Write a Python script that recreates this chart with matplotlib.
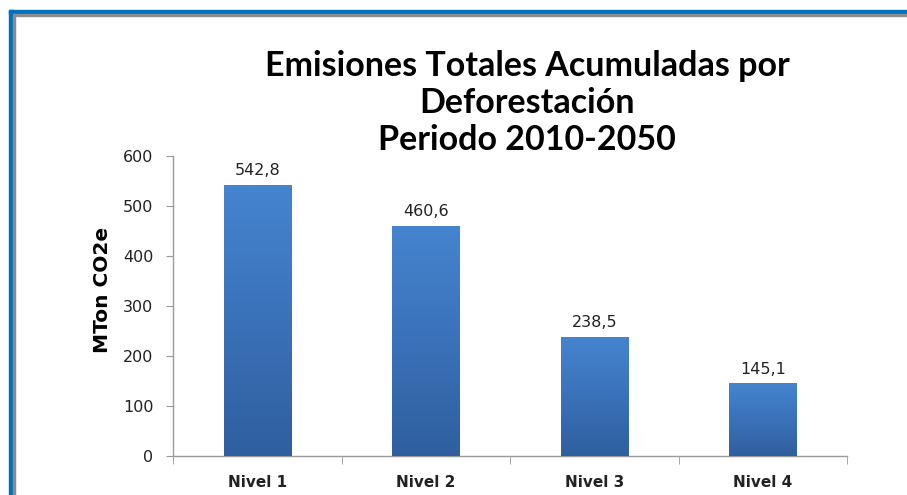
import numpy as np
import matplotlib
matplotlib.use("Agg")
import matplotlib.pyplot as plt
from matplotlib.patches import Rectangle

categories = ["Nivel 1", "Nivel 2", "Nivel 3", "Nivel 4"]
values = [542.8, 460.6, 238.5, 145.1]
value_labels = ["542,8", "460,6", "238,5", "145,1"]
yticks = [0, 100, 200, 300, 400, 500, 600]
title_lines = ["Emisiones Totales Acumuladas por", "Deforestación", "Periodo 2010-2050"]

plt.rcParams['font.family'] = ['DejaVu Sans']

W, H = 907, 495
fig = plt.figure(figsize=(W / 100, H / 100), dpi=100)
fig.patch.set_facecolor('white')

# frame: blue band on top and left, with a thin grey inner line
def px(x0, y0, w, h, color):
    fig.patches.append(Rectangle((x0 / W, 1 - (y0 + h) / H), w / W, h / H,
                                 transform=fig.transFigure, color=color, zorder=0))

px(9, 10, W - 9, 4, '#0070C0')
px(13, 14, W - 13, 1.5, '#8C8C8C')
px(9, 10, 4, H - 10, '#0070C0')
px(13, 14, 1.5, H - 14, '#8C8C8C')

ax = fig.add_axes([173 / W, 1 - 456 / H, (847 - 173) / W, 300 / H])
x = np.arange(len(categories))
bars = ax.bar(x, values, width=0.4, color='#3E78C2', edgecolor='#2B5A94',
              linewidth=0.6, zorder=2)

# vertical gradient inside each bar
grad = np.linspace(0, 1, 256).reshape(-1, 1)
cmap = matplotlib.colors.LinearSegmentedColormap.from_list(
    'b', ['#2F5F9E', '#3A72B9', '#4684D0'])
for b in bars:
    x0, y0 = b.get_x(), b.get_y()
    im = ax.imshow(grad, cmap=cmap, aspect='auto', origin='lower',
                   extent=[x0, x0 + b.get_width(), y0, y0 + b.get_height()],
                   zorder=3)
    im.set_clip_path(b)

for xi, v, lab in zip(x, values, value_labels):
    ax.text(xi, v + 13, lab, ha='center', va='bottom', fontsize=11.5, color='#222222')

ax.set_xlim(-0.5, len(categories) - 0.5)
ax.set_ylim(0, 600)
ax.set_yticks(yticks)
ax.set_yticklabels([str(t) for t in yticks], fontsize=11.5, color='#222222')
ax.set_xticks(x)
ax.set_xticklabels(categories, fontsize=11, fontweight='bold', color='#222222')
ax.tick_params(axis='x', length=0, pad=14)
ax.tick_params(axis='y', length=5, color='#9A9A9A', pad=9)
ax.set_xticks(np.arange(-0.5, len(categories)), minor=True)
ax.tick_params(axis='x', which='minor', length=6, color='#9A9A9A', direction='out')

for s in ['top', 'right']:
    ax.spines[s].set_visible(False)
for s in ['left', 'bottom']:
    ax.spines[s].set_color('#9A9A9A')
    ax.spines[s].set_linewidth(1)

ax.set_ylabel('MTon CO2e', fontsize=14.5, fontweight='bold')
ax.yaxis.set_label_coords((112 - 173) / (847 - 173), (456 - 290) / 300)

for line, yb in zip(title_lines, [76, 113, 150]):
    fig.text(527 / W, 1 - yb / H, line, ha='center', va='baseline',
             fontsize=24.5, fontweight='bold', color='black',
             family=['Lato', 'DejaVu Sans'])

fig.savefig('out.png', dpi=100, facecolor='white')
